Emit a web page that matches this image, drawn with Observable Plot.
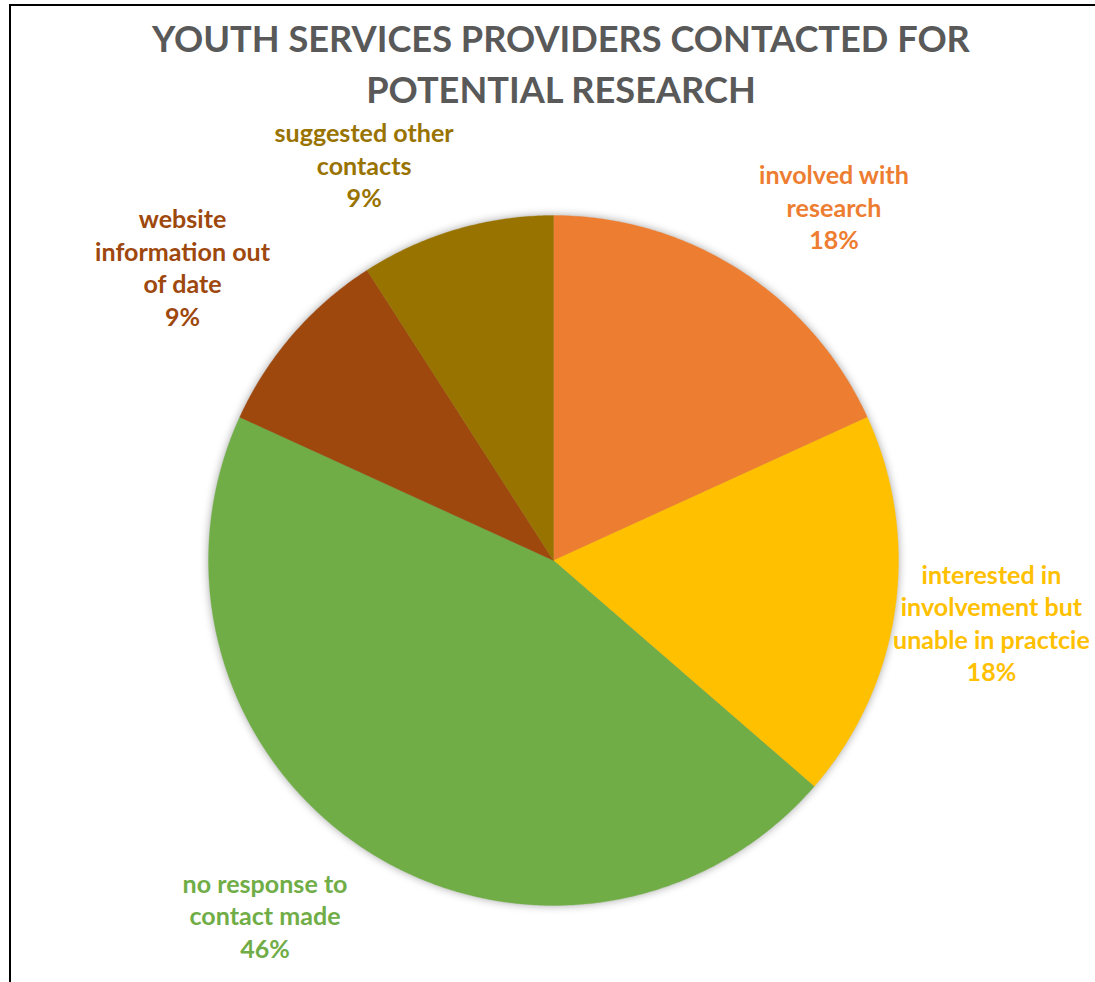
<!DOCTYPE html>
<html><head><meta charset="utf-8">
<script src="https://cdn.jsdelivr.net/npm/d3@7"></script>
<script src="https://cdn.jsdelivr.net/npm/@observablehq/plot@0.6"></script>
<style>
html,body{margin:0;padding:0;background:#fff;overflow:hidden;}
#wrap{position:relative;width:1095px;height:982px;overflow:hidden;background:#fff;}
#frame{position:absolute;left:9px;top:4px;width:1300px;height:1300px;border-left:2.5px solid #000;border-top:2.5px solid #000;}
#chart{position:absolute;left:0;top:0;}
#title{position:absolute;left:0;top:0;}
</style></head><body>
<div id="wrap"><div id="frame"></div><div id="chart"></div><svg id="title" width="1095" height="120"></svg></div>
<script>
// ---- data ----
const titleLines = ["YOUTH SERVICES PROVIDERS CONTACTED FOR", "POTENTIAL RESEARCH"];
const categories = [
  "involved with\nresearch",
  "interested in\ninvolvement but\nunable in practcie",
  "no response to\ncontact made",
  "website\ninformation out\nof date",
  "suggested other\ncontacts"
];
const counts = [2, 2, 5, 1, 1];
const percentLabels = ["18%", "18%", "46%", "9%", "9%"];
const colors = ["#ED7D31", "#FFC000", "#70AD47", "#9E480E", "#997300"];

// ---- layout ----
const W = 1095, H = 982, cx = 553, cy = 560, R = 345;
const FONT = "Lato";

// font fitting via canvas measurement
const ctx = document.createElement("canvas").getContext("2d");
function widthAt(text, size) { ctx.font = `bold ${size}px ${FONT}`; return ctx.measureText(text).width; }
const titleSize = 100 * 818 / widthAt(titleLines[0], 100);
const labelSize = 100 * 197 / widthAt("unable in practcie", 100);

// title
const tsvg = d3.select("#title");
titleLines.forEach((t, i) => {
  tsvg.append("text").attr("x", 561).attr("y", 52 + i * 51)
    .attr("text-anchor", "middle").attr("font-family", FONT).attr("font-weight", "bold")
    .attr("font-size", titleSize).attr("fill", "#595959").text(t);
});

// pie geometry (angles clockwise from 12 o'clock)
const arcs = d3.pie().sort(null).value(d => d)(counts);
const slicePts = [];
arcs.forEach((a, i) => {
  const name = categories[i];
  slicePts.push({name, x: 0, y: 0});
  const n = Math.max(2, Math.ceil((a.endAngle - a.startAngle) / (Math.PI / 360)));
  for (let k = 0; k <= n; k++) {
    const t = a.startAngle + (a.endAngle - a.startAngle) * k / n;
    slicePts.push({name, x: Math.sin(t), y: Math.cos(t)});
  }
  slicePts.push({name, x: 0, y: 0});
});

// label placement: radial from slice mid-angle, plus manual (Excel-like) nudges in px
const labelNudge = [[38, 23], [-6, -2], [-46, -23], [-32, 0], [-63, 34]];
const labelData = arcs.map((a, i) => {
  const m = (a.startAngle + a.endAngle) / 2, r = 1.3;
  return {
    name: categories[i],
    text: categories[i] + "\n" + percentLabels[i],
    x: r * Math.sin(m) + labelNudge[i][0] / R,
    y: r * Math.cos(m) - labelNudge[i][1] / R
  };
});

const plot = Plot.plot({
  width: W, height: H,
  margin: 0,
  x: {domain: [-cx / R, (W - cx) / R], axis: null},
  y: {domain: [-(H - cy) / R, cy / R], axis: null},
  color: {domain: categories, range: colors},
  style: {fontFamily: FONT, background: "transparent"},
  marks: [
    Plot.line(slicePts, {x: "x", y: "y", z: "name", fill: "name", stroke: "name", strokeWidth: 0.3}),
    Plot.text(labelData, {
      x: "x", y: "y", text: "text", fill: "name",
      fontSize: labelSize, fontWeight: "bold", lineHeight: 32.5 / labelSize,
      textAnchor: "middle", lineAnchor: "middle"
    })
  ]
});
d3.select(plot).selectAll('g[aria-label="line"]').style("filter", "drop-shadow(0px 0px 4px rgba(0,0,0,0.35))");
document.getElementById("chart").appendChild(plot);
</script>
</body></html>
